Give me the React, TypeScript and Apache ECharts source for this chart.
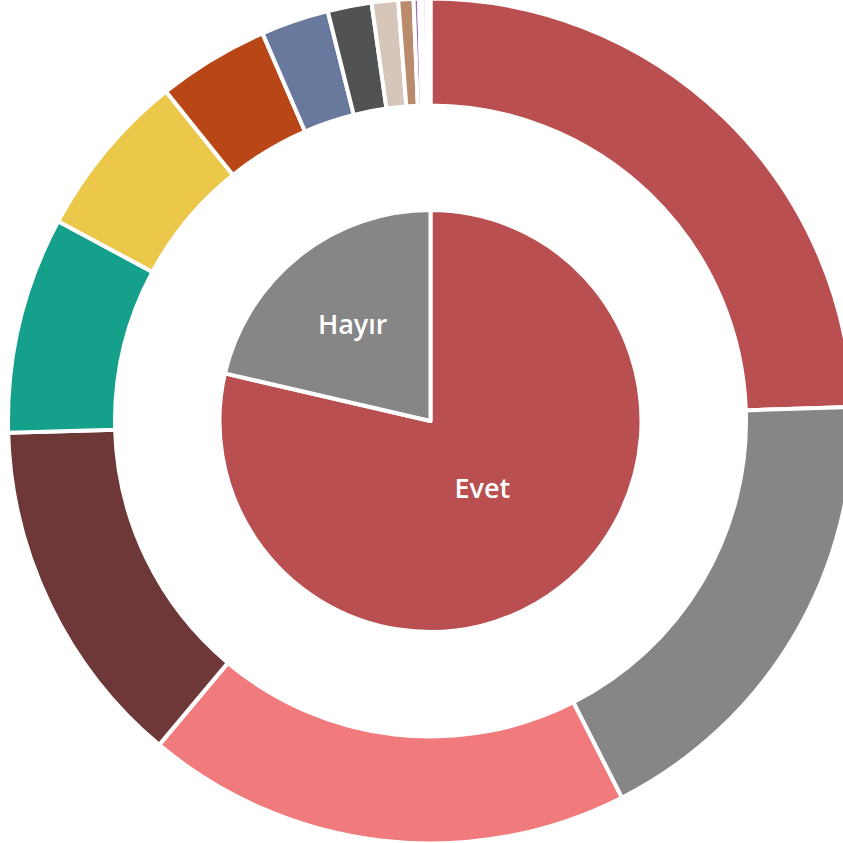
import React, { useEffect, useRef } from "react";
import * as echarts from "echarts";

// Inner pie: Evet / Hayır
const innerCategories = ["Evet", "Hayır"];
const innerValues = [78.62, 21.38];
const innerColors = ["#b94f50", "#868687"];

// Outer ring breakdown (clockwise from 12 o'clock)
const outerCategories = [
  "Grup 1", "Grup 2", "Grup 3", "Grup 4", "Grup 5",
  "Grup 6", "Grup 7", "Grup 8", "Grup 9", "Grup 10",
  "Grup 11", "Grup 12", "Grup 13", "Grup 14", "Grup 15",
];
const outerValues = [
  24.47, 18.06, 18.58, 13.46, 8.28,
  6.4, 4.26, 2.6, 1.68, 1.01,
  0.58, 0.21, 0.11, 0.17, 0.15,
];
const outerColors = [
  "#b94f50", "#868687", "#f07a7c", "#6e3839", "#14a08a",
  "#ecc84a", "#b84616", "#69799d", "#505351", "#d6c6ba",
  "#b98b6c", "#9a6aa8", "#c9c9c9", "#e8a0b0", "#dddddd",
];

export default function App() {
  const ref = useRef<HTMLDivElement>(null);

  useEffect(() => {
    if (!ref.current) return;
    const chart = echarts.init(ref.current, undefined, { renderer: "svg" });
    const labelOffsets: Record<string, number[]> = {
      "Evet": [-15.7, -18.4],
      "Hayır": [-10.3, -12.5],
    };
    const center = [430.5, 421];
    chart.setOption({
      animation: false,
      backgroundColor: "#ffffff",
      tooltip: { show: false },
      series: [
        {
          type: "pie",
          name: "outer",
          center,
          radius: [315.5, 422.5],
          startAngle: 90,
          clockwise: true,
          silent: true,
          avoidLabelOverlap: false,
          label: { show: false },
          labelLine: { show: false },
          itemStyle: { borderColor: "#ffffff", borderWidth: 4 },
          emphasis: { disabled: true },
          data: outerCategories.map((name, i) => ({
            name,
            value: outerValues[i],
            itemStyle: { color: outerColors[i] },
          })),
        },
        {
          type: "pie",
          name: "inner",
          center,
          radius: [0, 211],
          startAngle: 90,
          clockwise: true,
          silent: true,
          avoidLabelOverlap: false,
          labelLine: { show: false },
          itemStyle: { borderColor: "#ffffff", borderWidth: 4 },
          emphasis: { disabled: true },
          label: {
            show: true,
            position: "inside",
            formatter: "{b}",
            color: "#ffffff",
            fontSize: 27,
            fontFamily: "Open Sans",
            fontWeight: 600,
          },
          data: innerCategories.map((name, i) => ({
            name,
            value: innerValues[i],
            itemStyle: { color: innerColors[i] },
            label: { offset: labelOffsets[name] },
          })),
        },
      ],
    });
    return () => chart.dispose();
  }, []);

  return (
    <div
      ref={ref}
      style={{ position: "absolute", left: 0, top: 0, width: 843, height: 843 }}
    />
  );
}
